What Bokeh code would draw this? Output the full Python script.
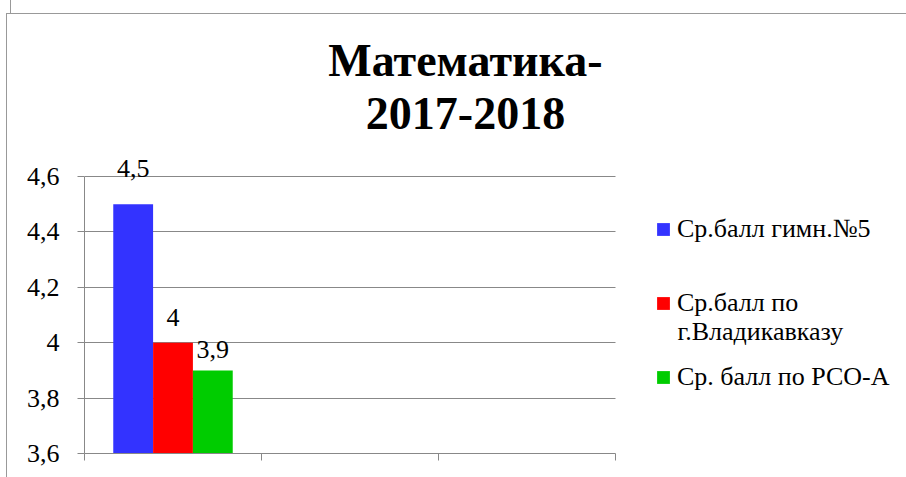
from bokeh.plotting import figure
from bokeh.models import (ColumnDataSource, FixedTicker, Legend, LegendItem,
                          Label, LabelSet, Grid, InlineStyleSheet)
from bokeh.embed import file_html
from bokeh.resources import INLINE

# ---- data ----
title_lines = ["Математика-", "2017-2018"]
categories = ["", "", ""]          # three category slots, only the first is filled
series_names = ["Ср.балл гимн.№5", "Ср.балл по\nг.Владикавказу", "Ср. балл по РСО-А"]
gymn5 = [4.5]
vladikavkaz = [4.0]
rso_a = [3.9]
y_ticks = [3.6, 3.8, 4.0, 4.2, 4.4, 4.6]
y_tick_labels = ["3,6", "3,8", "4", "4,2", "4,4", "4,6"]
colors = ["#3333FF", "#FF0000", "#00CC00"]

# ---- styling ----
FONT = "'Liberation Serif'"
GRID = "#888888"
W, H = 906, 477
FL, FR, FT, FB = 84, 615, 176, 453        # plot area of the chart (pixels)
label_dy = [27, 17, 12]                    # data-label offsets above bars (px)

n = len(categories)
x_end = n * (W - FL) / (FR - FL)           # frame spans the whole width
y_end = y_ticks[0] + (y_ticks[-1] - y_ticks[0]) * FB / (FB - FT)

p = figure(width=W, height=H, output_backend="svg", toolbar_location=None,
           x_range=(0, x_end), y_range=(y_ticks[0], y_end),
           min_border_left=FL, min_border_right=0, min_border_top=0,
           min_border_bottom=H - FB)
p.outline_line_color = None
p.background_fill_color = "white"
p.border_fill_color = "white"

# axes
p.yaxis.ticker = FixedTicker(ticks=y_ticks)
p.yaxis.bounds = (y_ticks[0], y_ticks[-1])
p.yaxis.major_label_overrides = {t: s for t, s in zip(y_ticks, y_tick_labels)}
p.yaxis.major_label_text_font = FONT
p.yaxis.major_label_text_font_size = "26px"
p.yaxis.major_label_text_color = "black"
p.yaxis.major_label_standoff = 18
p.yaxis.minor_tick_line_color = None
p.yaxis.major_tick_out = 7
p.yaxis.major_tick_in = 0
p.yaxis.axis_line_color = GRID
p.yaxis.major_tick_line_color = GRID

x_ticks = list(range(n + 1))
p.xaxis.ticker = FixedTicker(ticks=x_ticks)
p.xaxis.bounds = (0, n)
p.xaxis.major_label_overrides = {t: "" for t in x_ticks}
p.xaxis.minor_tick_line_color = None
p.xaxis.major_tick_out = 7
p.xaxis.major_tick_in = 0
p.xaxis.axis_line_color = GRID
p.xaxis.major_tick_line_color = GRID

p.xgrid.grid_line_color = None
if "cross_bounds" in Grid.properties():
    p.ygrid.ticker = FixedTicker(ticks=y_ticks)
    p.ygrid.cross_bounds = (0, n)
    p.ygrid.grid_line_color = GRID
    p.ygrid.grid_line_width = 1
else:
    p.ygrid.grid_line_color = None
    p.segment(x0=0, x1=n, y0=y_ticks, y1=y_ticks, line_color=GRID, line_width=1)

# bars
series = [gymn5, vladikavkaz, rso_a]
bar_w = 0.225
offsets = [-bar_w, 0.0, bar_w]
items = []
lx, ly, lt = [], [], []
for vals, off, col, name in zip(series, offsets, colors, series_names):
    xs = [i + 0.5 + off for i in range(len(vals))]
    src = ColumnDataSource(dict(x=xs, top=vals))
    r = p.vbar(x="x", top="top", bottom=y_ticks[0], width=bar_w, source=src,
               fill_color=col, line_color=None)
    items.append(LegendItem(label=name.split("\n")[0], renderers=[r]))
    for x, v in zip(xs, vals):
        lx.append(x)
        ly.append(v)
        lt.append(f"{v:g}".replace(".", ","))

lab_src = ColumnDataSource(dict(x=lx, y=ly, t=lt, dy=label_dy[:len(lx)]))
p.add_layout(LabelSet(x="x", y="y", text="t", source=lab_src, y_offset="dy",
                      text_align="center", text_baseline="alphabetic",
                      text_font=FONT, text_font_size="26px", text_color="black"))

# legend (to the right of the plot area)
LEG_X, LEG_Y = 655 - FL, 60
GLYPH = 16
STANDOFF = 6
legend = Legend(items=items, location=(LEG_X, LEG_Y), orientation="vertical",
                label_text_font=FONT, label_text_font_size="26px",
                label_text_color="black", glyph_width=GLYPH, glyph_height=GLYPH,
                label_standoff=STANDOFF, label_height=32, spacing=42, padding=0,
                margin=0, border_line_color=None, background_fill_alpha=0)
p.add_layout(legend)
# continuation line of the wrapped second legend entry
for name in series_names:
    rest = name.split("\n")[1:]
    for k, extra in enumerate(rest):
        p.add_layout(Label(x=LEG_X + GLYPH + STANDOFF, y=FB - 303 - 28 * (k + 1),
                           x_units="screen", y_units="screen", text=extra,
                           text_align="left", text_baseline="middle",
                           text_font=FONT, text_font_size="26px",
                           text_color="black"))

# title (two lines)
for i, line in enumerate(title_lines):
    p.add_layout(Label(x=465 - FL, y=FB - 60 - 53 * i, x_units="screen",
                       y_units="screen", text=line, text_align="center",
                       text_baseline="alphabetic", text_font=FONT,
                       text_font_size="46px", text_font_style="bold",
                       text_color="black"))

# frame lines of the surrounding drawing
p.stylesheets = [InlineStyleSheet(css="""
:host { position: relative; }
:host::after { content: ""; position: absolute; left: 6px; top: 13px;
  right: 0; bottom: 0; border-left: 1px solid #999; border-top: 1px solid #999;
  pointer-events: none; }
:host::before { content: ""; position: absolute; left: 10px; top: 0;
  width: 0; height: 13px; border-left: 1px solid #999; pointer-events: none;
  z-index: 2; }
""")]

open("out.html", "w").write(file_html(p, INLINE))
